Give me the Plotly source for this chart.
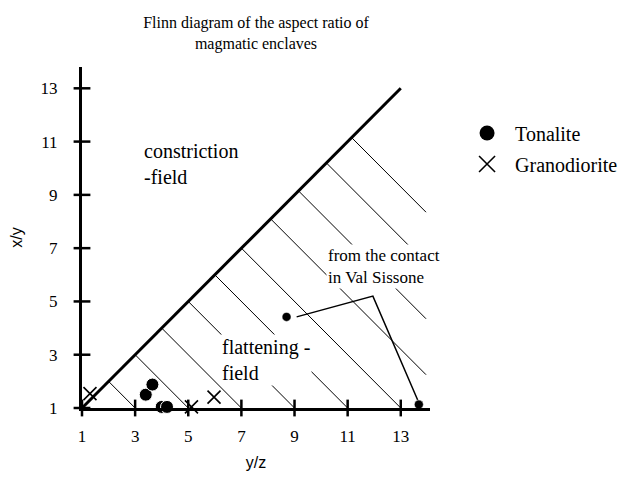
import plotly.graph_objects as go

# ---- data ----
tonalite_x = [3.4, 3.65, 4.0, 4.2]
tonalite_y = [1.5, 1.88, 1.04, 1.04]
contact_x = [8.7, 13.68]          # small tonalite points "from the contact in Val Sissone"
contact_y = [4.42, 1.13]
grano_x = [1.3, 5.12, 5.97]
grano_y = [1.54, 1.04, 1.41]
tick_vals = [1, 3, 5, 7, 9, 11, 13]
tick_text = ["1", "3", "5", "7", "9", "11", "13"]
diag_x = [1, 13]
diag_y = [1, 13]
hatch_starts = [2, 3, 4, 5, 6, 7, 8.1, 9.15, 10.2, 11.15]
leader_x = [9.08, 11.95, 13.64]
leader_y = [4.42, 5.2, 1.29]

X_MAX = 14.1
Y_MAX = 13.8

SERIF = "Liberation Serif"
SANS = "Liberation Sans"

fig = go.Figure()

# hatch lines (slope -1 from the diagonal down to the x-axis, clipped at right)
hx, hy = [], []
for k in hatch_starts:
    x_end = min(2 * k - 1, 13.95)
    hx += [k, x_end, None]
    hy += [k, 2 * k - x_end, None]
fig.add_trace(go.Scatter(x=hx, y=hy, mode="lines", line=dict(color="black", width=1),
                         showlegend=False, hoverinfo="skip"))

# diagonal boundary
fig.add_trace(go.Scatter(x=diag_x, y=diag_y, mode="lines", line=dict(color="black", width=3),
                         showlegend=False, hoverinfo="skip"))

# leader line
fig.add_trace(go.Scatter(x=leader_x, y=leader_y, mode="lines", line=dict(color="black", width=1.5),
                         showlegend=False, hoverinfo="skip"))

# crossing tick marks
fig.add_trace(go.Scatter(x=tick_vals, y=[1] * len(tick_vals), mode="markers",
                         marker=dict(symbol="line-ns", size=12, line=dict(color="black", width=2.5)),
                         showlegend=False, hoverinfo="skip", cliponaxis=False))
fig.add_trace(go.Scatter(x=[1] * len(tick_vals), y=tick_vals, mode="markers",
                         marker=dict(symbol="line-ew", size=12, line=dict(color="black", width=2.5)),
                         showlegend=False, hoverinfo="skip", cliponaxis=False))

# data
fig.add_trace(go.Scatter(x=contact_x, y=contact_y, mode="markers", name="Tonalite",
                         marker=dict(symbol="circle", size=9, color="black",
                                     line=dict(color="white", width=0.5)),
                         showlegend=False, cliponaxis=False, legendgroup="t"))
fig.add_trace(go.Scatter(x=tonalite_x, y=tonalite_y, mode="markers", name="Tonalite",
                         marker=dict(symbol="circle", size=13, color="black",
                                     line=dict(color="white", width=1)),
                         showlegend=False, cliponaxis=False, legendgroup="t"))
fig.add_trace(go.Scatter(x=grano_x, y=grano_y, mode="markers", name="Granodiorite",
                         marker=dict(symbol="x-thin", size=13,
                                     line=dict(color="black", width=1.6)),
                         showlegend=False, cliponaxis=False, legendgroup="g"))

# legend entries (larger symbols, as in the original key)
fig.add_trace(go.Scatter(x=[None], y=[None], mode="markers", name="Tonalite",
                         marker=dict(symbol="circle", size=15, color="black"),
                         legendgroup="t"))
fig.add_trace(go.Scatter(x=[None], y=[None], mode="markers", name="Granodiorite",
                         marker=dict(symbol="x-thin", size=16, line=dict(color="black", width=1.6)),
                         legendgroup="g"))

big_font = dict(family=SERIF, size=20, color="black")
small_font = dict(family=SERIF, size=17, color="black")
fig.add_annotation(x=3.25, y=10.16, xref="x", yref="y", text="constriction<br>-field",
                   showarrow=False, xanchor="left", yanchor="middle", align="left", font=big_font)
fig.add_annotation(x=10.17, y=6.33, xref="x", yref="y", text="from the contact<br>in Val Sissone",
                   showarrow=False, xanchor="left", yanchor="middle", align="left", font=small_font,
                   bgcolor="white")
fig.add_annotation(x=6.2, y=2.81, xref="x", yref="y", text="flattening -<br>field",
                   showarrow=False, xanchor="left", yanchor="middle", align="left", font=big_font,
                   bgcolor="white")

fig.update_layout(
    width=626, height=478,
    margin=dict(l=74, r=204, t=59, b=78, autoexpand=False),
    paper_bgcolor="white", plot_bgcolor="white",
    title=dict(text="Flinn diagram of the aspect ratio of<br>magmatic enclaves",
               x=0.5, xref="paper", xanchor="center", y=0.958, yref="container", yanchor="middle",
               font=dict(family=SERIF, size=16, color="black"), automargin=False),
    xaxis=dict(range=[1, X_MAX], showgrid=False, zeroline=False, showline=True, automargin=False,
               linecolor="black", linewidth=3, tickmode="array", tickvals=tick_vals,
               ticktext=tick_text, ticks="", ticklabelstandoff=11,
               tickfont=dict(family=SERIF, size=17, color="black"),
               title=dict(text="y/z", font=dict(family=SANS, size=16, color="black"), standoff=12)),
    yaxis=dict(range=[1, Y_MAX], showgrid=False, zeroline=False, showline=True, automargin=False,
               linecolor="black", linewidth=3, tickmode="array", tickvals=tick_vals,
               ticktext=tick_text, ticks="", ticklabelstandoff=18,
               tickfont=dict(family=SERIF, size=17, color="black"),
               title=dict(text="x/y", font=dict(family=SANS, size=16, color="black"), standoff=14)),
    legend=dict(x=1.0835, xanchor="left", y=0.8636, yanchor="top",
                font=dict(family=SERIF, size=20, color="black"), itemwidth=46,
                tracegroupgap=2, traceorder="grouped", bgcolor="rgba(0,0,0,0)"),
    showlegend=True,
)

fig.write_html("out.html")
